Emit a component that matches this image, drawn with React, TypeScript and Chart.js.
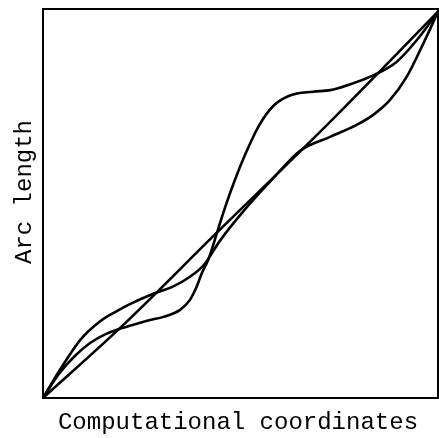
import React, { useEffect, useRef } from "react";
import { Chart, registerables } from "chart.js";

Chart.register(...registerables);

const xTitle = "Computational coordinates";
const yTitle = "Arc length";

// Straight reference mapping (uniform grid)
const uniformX = [0, 0.2, 0.44, 0.73, 1];
const uniformY = [0, 0.186, 0.428, 0.718, 1];

// Mild S-shaped mapping
const mildX = [0, 0.043, 0.094, 0.144, 0.187, 0.22, 0.279, 0.33, 0.372, 0.406, 0.45, 0.507, 0.583, 0.651, 0.727, 0.794, 0.836, 0.878, 0.921, 0.963, 1];
const mildY = [0, 0.073, 0.15, 0.198, 0.225, 0.243, 0.27, 0.289, 0.314, 0.343, 0.41, 0.483, 0.569, 0.64, 0.676, 0.707, 0.733, 0.771, 0.832, 0.918, 1];

// Strong S-shaped mapping
const strongX = [0, 0.04, 0.08, 0.12, 0.16, 0.2, 0.24, 0.271, 0.305, 0.347, 0.372, 0.389, 0.402, 0.418, 0.44, 0.456, 0.482, 0.516, 0.549, 0.583, 0.625, 0.684, 0.727, 0.769, 0.836, 0.895, 0.946, 1];
const strongY = [0, 0.062, 0.108, 0.143, 0.166, 0.181, 0.193, 0.202, 0.21, 0.228, 0.254, 0.288, 0.323, 0.357, 0.426, 0.478, 0.554, 0.64, 0.709, 0.756, 0.783, 0.793, 0.797, 0.809, 0.835, 0.87, 0.926, 1];

const toPoints = (xs: number[], ys: number[]) => xs.map((x, i) => ({ x, y: ys[i] }));

const FONT = '24px "Liberation Mono", "DejaVu Sans Mono", monospace';

const framePlugin = {
  id: "frameAndTitles",
  afterDraw(chart: any) {
    const { ctx, chartArea } = chart;
    const { left, top, right, bottom } = chartArea;
    ctx.save();
    ctx.strokeStyle = "#000";
    ctx.lineWidth = 2;
    ctx.strokeRect(left, top, right - left, bottom - top);
    ctx.fillStyle = "#000";
    ctx.font = FONT;
    ctx.textAlign = "center";
    ctx.textBaseline = "alphabetic";
    ctx.fillText(xTitle, 238, 429);
    ctx.translate(31, 192);
    ctx.rotate(-Math.PI / 2);
    ctx.fillText(yTitle, 0, 0);
    ctx.restore();
  },
};

export default function App() {
  const ref = useRef<HTMLCanvasElement | null>(null);
  useEffect(() => {
    if (!ref.current) return;
    const line = (data: { x: number; y: number }[]) => ({
      data,
      showLine: true,
      borderColor: "#000",
      borderWidth: 2.6,
      pointRadius: 0,
      fill: false,
      cubicInterpolationMode: "monotone" as const,
    });
    const chart = new Chart(ref.current, {
      type: "scatter",
      data: {
        datasets: [
          line(toPoints(uniformX, uniformY)),
          line(toPoints(mildX, mildY)),
          line(toPoints(strongX, strongY)),
        ],
      },
      options: {
        responsive: false,
        animation: false,
        layout: { padding: { left: 43, top: 9, right: 1, bottom: 40 } },
        plugins: { legend: { display: false }, tooltip: { enabled: false } },
        scales: {
          x: { type: "linear", min: 0, max: 1, display: false },
          y: { type: "linear", min: 0, max: 1.007, display: false },
        },
      },
      plugins: [framePlugin],
    });
    return () => chart.destroy();
  }, []);
  return (
    <div style={{ position: "fixed", left: 0, top: 0, width: 439, height: 438, background: "#fff" }}>
      <canvas ref={ref} width={439} height={438} style={{ display: "block" }} />
    </div>
  );
}
